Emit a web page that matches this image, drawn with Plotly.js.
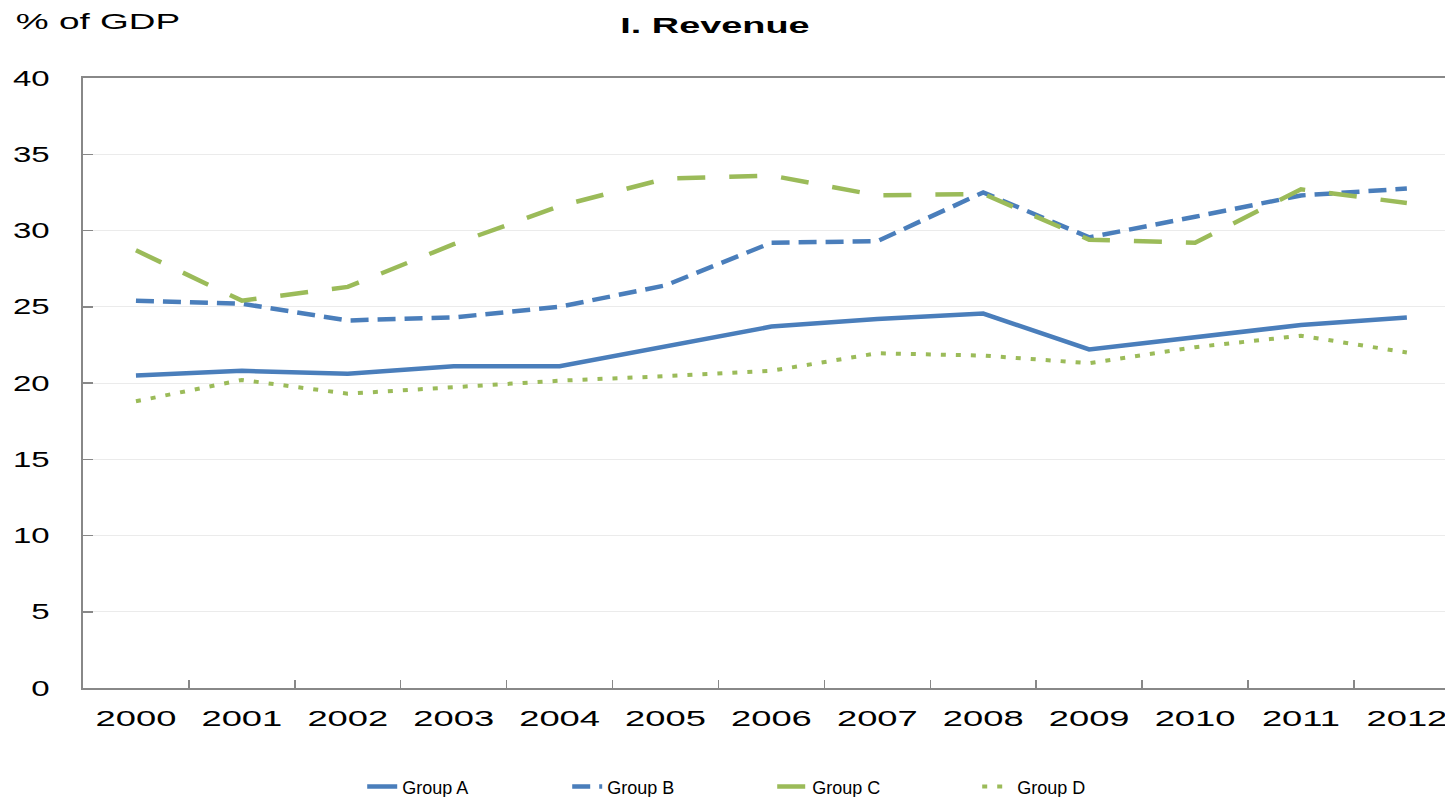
<!DOCTYPE html>
<html>
<head>
<meta charset="utf-8">
<script src="https://cdn.plot.ly/plotly-3.0.1.min.js"></script>
<style>
  html, body { margin: 0; padding: 0; background: #fff; overflow: hidden; }
  #chart { width: 1445px; height: 797px; }
</style>
</head>
<body>
<div id="chart"></div>
<script>
const years = ["2000","2001","2002","2003","2004","2005","2006","2007","2008","2009","2010","2011","2012"];
const groupA = [20.5, 20.8, 20.6, 21.1, 21.1, 22.4, 23.7, 24.2, 24.55, 22.2, 23.0, 23.8, 24.3];
const groupB = [25.4, 25.2, 24.1, 24.3, 25.0, 26.4, 29.2, 29.3, 32.5, 29.55, 30.9, 32.3, 32.75];
const groupC = [28.7, 25.4, 26.3, 29.1, 31.6, 33.4, 33.6, 32.3, 32.4, 29.4, 29.2, 32.7, 31.8];
const groupD = [18.8, 20.2, 19.3, 19.75, 20.15, 20.45, 20.8, 21.95, 21.8, 21.3, 22.35, 23.1, 22.0];
const seriesNames = ["Group A", "Group B", "Group C", "Group D"];
const yTicks = [0, 5, 10, 15, 20, 25, 30, 35, 40];

const blue = "#4a7ebb";
const green = "#9bbb59";

const traces = [
  {x: years, y: groupA, name: seriesNames[0], type: "scatter", mode: "lines",
   line: {color: blue, width: 4.5}},
  {x: years, y: groupB, name: seriesNames[1], type: "scatter", mode: "lines",
   line: {color: blue, width: 4.5, dash: "18px,9px"}},
  {x: years, y: groupC, name: seriesNames[2], type: "scatter", mode: "lines",
   line: {color: green, width: 4.5, dash: "28px,24px"}},
  {x: years, y: groupD, name: seriesNames[3], type: "scatter", mode: "lines",
   line: {color: green, width: 4, dash: "5px,10px"}}
];

const layout = {
  width: 1445, height: 797,
  margin: {l: 83, r: 0, t: 78, b: 109, pad: 0, autoexpand: false},
  paper_bgcolor: "#fff", plot_bgcolor: "#fff",
  font: {family: "'Liberation Sans', Arial, sans-serif", size: 22, color: "#000"},
  title: {
    text: "I. Revenue",
    x: 0.464, xref: "paper", xanchor: "center",
    y: 0.968, yref: "container", yanchor: "middle",
    font: {size: 22, color: "#000", weight: "bold"}
  },
  xaxis: {
    type: "category",
    range: [-0.5, 12.36],
    showline: true, linecolor: "#888", linewidth: 2, mirror: true,
    showgrid: false, zeroline: false,
    ticks: "inside", tickson: "boundaries", ticklen: 8, tickcolor: "#888", tickwidth: 1.5,
    ticklabelstandoff: 10,
    tickfont: {size: 22, color: "#000"}
  },
  yaxis: {
    range: [0, 40],
    tickvals: yTicks,
    showline: true, linecolor: "#888", linewidth: 2,
    showgrid: true, gridcolor: "#ebebeb", gridwidth: 1,
    zeroline: false,
    ticks: "inside", ticklen: 10, tickcolor: "#888", tickwidth: 1.5,
    ticklabelstandoff: 27,
    tickfont: {size: 22, color: "#000"}
  },
  annotations: [{
    text: "% of GDP", xref: "paper", yref: "paper",
    x: 0.0107, xanchor: "center", y: 1.092, yanchor: "middle",
    showarrow: false, font: {size: 22, color: "#000"}
  }],
  showlegend: true,
  legend: {
    orientation: "h",
    x: 0.205, xanchor: "left",
    y: -0.162, yanchor: "middle",
    entrywidth: 160, entrywidthmode: "pixels",
    font: {family: "'Liberation Sans', Arial, sans-serif", size: 18, color: "#000"},
    bgcolor: "rgba(0,0,0,0)"
  }
};

function stretchText(selector, factor) {
  document.querySelectorAll(selector).forEach(function (t) {
    const w = t.getComputedTextLength();
    if (w > 0) {
      t.setAttribute("textLength", (w * factor).toFixed(1));
      t.setAttribute("lengthAdjust", "spacingAndGlyphs");
    }
  });
}

Plotly.newPlot("chart", traces, layout, {displayModeBar: false, staticPlot: true}).then(function () {
  stretchText("#chart .xtick text", 1.65);
  stretchText("#chart .ytick text", 1.5);
  stretchText("#chart .gtitle", 1.72);
  stretchText("#chart .annotation-text", 1.68);
});
</script>
</body>
</html>
